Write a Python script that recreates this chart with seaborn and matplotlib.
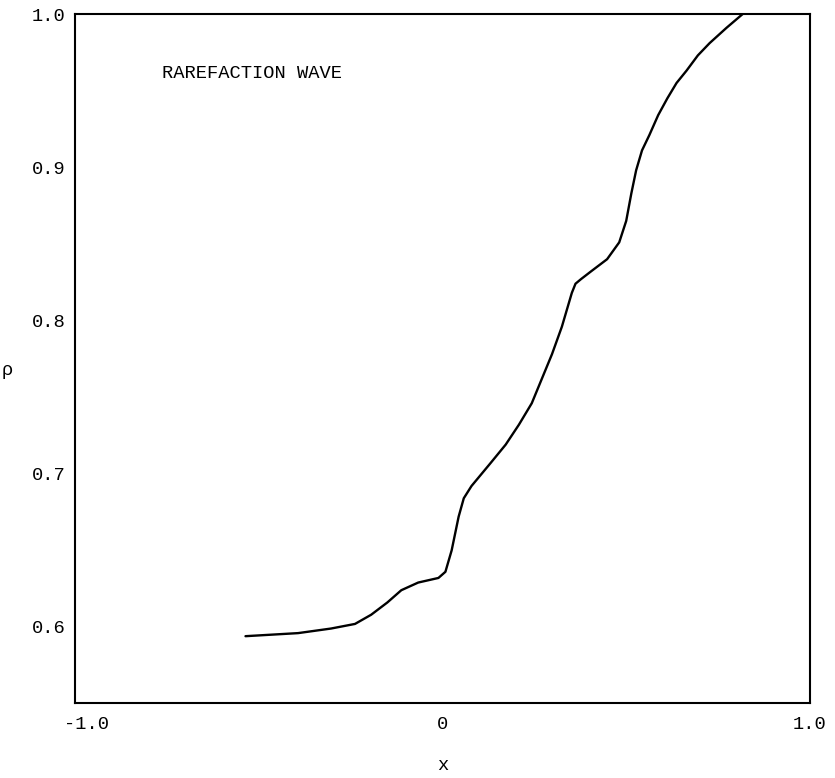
import matplotlib
matplotlib.use("Agg")
import matplotlib.pyplot as plt
import matplotlib.transforms as mtransforms
import seaborn as sns
import pandas as pd

x_vals = [-0.536, -0.393, -0.303, -0.238, -0.194, -0.150, -0.112, -0.066, -0.011, 0.008,
          0.025, 0.044, 0.058, 0.079, 0.131, 0.172, 0.208, 0.243, 0.298, 0.325, 0.352,
          0.362, 0.377, 0.404, 0.448, 0.481, 0.500, 0.514, 0.527, 0.543, 0.563, 0.587,
          0.612, 0.637, 0.664, 0.695, 0.727, 0.773, 0.817]
rho_vals = [0.594, 0.596, 0.599, 0.602, 0.608, 0.616, 0.624, 0.629, 0.632, 0.636,
            0.650, 0.672, 0.684, 0.692, 0.707, 0.719, 0.732, 0.746, 0.778, 0.796, 0.818,
            0.824, 0.827, 0.832, 0.840, 0.851, 0.865, 0.883, 0.898, 0.911, 0.921, 0.934,
            0.945, 0.955, 0.963, 0.973, 0.981, 0.991, 1.000]
x_ticks = [-1.0, 0.0, 1.0]
x_tick_labels = ["-1.0", "0", "1.0"]
y_ticks = [0.6, 0.7, 0.8, 0.9, 1.0]
y_tick_labels = ["0.6", "0.7", "0.8", "0.9", "1.0"]
annotation = "RAREFACTION WAVE"

sns.set_style("white")
plt.rcParams['font.family'] = ['Liberation Mono', 'DejaVu Sans Mono']

fig = plt.figure(figsize=(8.35, 7.78), dpi=100)
ax = fig.add_axes([0.0898, 0.0964, 0.8802, 0.8856])

df = pd.DataFrame({"x": x_vals, "rho": rho_vals})
sns.lineplot(data=df, x="x", y="rho", color="black", linewidth=1.7, sort=False, ax=ax,
             solid_joinstyle='round', solid_capstyle='round')

ax.set_xlim(-1.0, 1.0)
ax.set_ylim(0.5504, 1.0)
ax.set_xticks(x_ticks)
ax.set_xticklabels(x_tick_labels)
ax.set_yticks(y_ticks)
ax.set_yticklabels(y_tick_labels)
ax.tick_params(axis='both', direction='in', length=5, width=1.3, color='black',
               labelsize=13.5, labelcolor='black')
ax.tick_params(axis='x', pad=9)
ax.tick_params(axis='y', pad=7)
for s in ax.spines.values():
    s.set_visible(True)
    s.set_color('black')
    s.set_linewidth(1.5)

# typewriter placement: "-1.0" sits right of the corner
first = ax.get_xticklabels()[0]
first.set_transform(first.get_transform() +
                    mtransforms.ScaledTranslation(12 / 100, 0, fig.dpi_scale_trans))

ax.set_xlabel("x", fontsize=13.5, color='black')
ax.xaxis.set_label_coords(0.5, -0.078)
ax.set_ylabel("ρ", fontsize=13.5, color='black', rotation=0)
ax.yaxis.set_label_coords(-0.092, 0.47)

ax.text(0.118, 0.914, annotation, transform=ax.transAxes, fontsize=13.5,
        va='center', ha='left', color='black')

fig.savefig("out.png", dpi=100)
